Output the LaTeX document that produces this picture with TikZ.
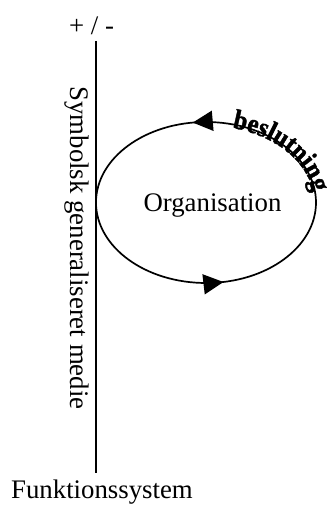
\documentclass[tikz,border=0pt]{standalone}
\usepackage{fontspec}
\setmainfont{Liberation Serif}
\newfontfamily\beslfont[FakeStretch=0.9,FakeBold=1.5]{Liberation Serif Bold}
\usetikzlibrary{arrows.meta,decorations.markings,decorations.text}
\tikzset{
  big/.style={font=\fontsize{26.8}{30}\selectfont, inner sep=0pt},
  axisline/.style={line width=1.7pt},
  cycle/.style={line width=1.7pt,
    postaction={decorate},
    decoration={markings,
      mark=at position 0.272 with {\arrow{Triangle[length=20pt,width=20pt]}},
      mark=at position 0.779 with {\arrow{Triangle[length=20pt,width=20pt]}}}}
}
\begin{document}
\begin{tikzpicture}[x=1pt,y=1pt]
\useasboundingbox (0,0) rectangle (326,505);
% vertical axis
\coordinate (top) at (96,464);
\coordinate (bot) at (96,32);
\draw[axisline] (top) -- (bot);
\node[big, anchor=base] (pm) at (91.5,470) {+ / -};
\node[big, anchor=base] (fs) at (102,6) {Funktionssystem};
\node[big, rotate=-90] (sym) at (77,257) {Symbolsk generaliseret medie};
% organisation cycle
\draw[cycle] (206,302.5) ellipse [x radius=110, y radius=80.5];
\node[big, anchor=base] (org) at (212.5,293) {Organisation};
% beslutning along the ellipse
\path[decorate, decoration={text along path, text align={left},
  text format delimiters={|}{|},
  text={|\fontsize{27.5}{30}\beslfont|beslutning}}]
  (206,302.5) ++(76:108 and 77) arc [start angle=76, end angle=0, x radius=108, y radius=77];
\end{tikzpicture}
\end{document}
